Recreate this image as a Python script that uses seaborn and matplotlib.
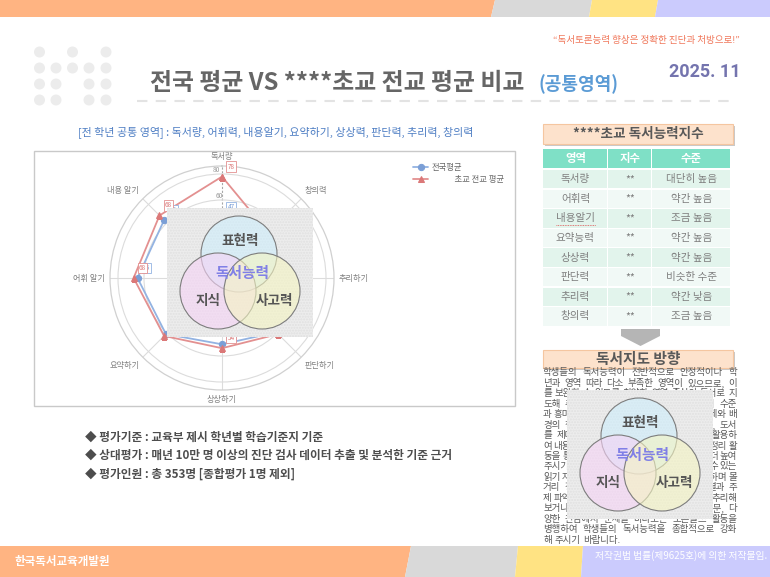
import numpy as np
import matplotlib
matplotlib.use("Agg")
import matplotlib.pyplot as plt
from matplotlib.patches import Rectangle, Polygon, Circle
from matplotlib.colors import to_rgba
import seaborn as sns

# ─────────────────────────────
# Data
# ─────────────────────────────
RADAR_AXES = ["독서량", "창의력", "추리하기", "판단하기", "상상하기", "요약하기", "어휘 알기", "내용 알기"]
NATIONAL_AVG = [47, 46, 57, 59, 51, 61, 65, 63]
SCHOOL_AVG = [78, 50, 55, 61, 54, 63, 68, 68]
RADAR_TICKS = [20, 40, 60, 80]

TABLE_HEADER = ["영역", "지수", "수준"]
TABLE_AREAS = ["독서량", "어휘력", "내용알기", "요약능력", "상상력", "판단력", "추리력", "창의력"]
TABLE_INDEX = ["**"] * 8
TABLE_LEVELS = ["대단히 높음", "약간 높음", "조금 높음", "약간 높음", "약간 높음", "비슷한 수준", "약간 낮음", "조금 높음"]

BULLETS = [
    "◆ 평가기준 : 교육부 제시 학년별 학습기준지 기준",
    "◆ 상대평가 : 매년 10만 명 이상의 진단 검사 데이터 추출 및 분석한 기준 근거",
    "◆ 평가인원 : 총 353명 [종합평가 1명 제외]",
]

GUIDE_LINES = [
    "학생들의 독서능력이 전반적으로 안정적이나 학",
    "년과 영역 따라 다소 부족한 영역이 있으므로, 이",
    "를 보완할 수 있도록 취약한 영역 중심의 독서로 지",
    "도해 주시기 바랍니다. 또한 학생들의 독서 수준",
    "과 흥미를 고려하여 다양한 분야와 폭넓은 주제와 배",
    "경의 책을 골고루 읽을 수 있도록 지도하고, 도서",
    "를 제대로 이해하기 위한 다양한 전략을 활용하",
    "여 내용을 스스로 요약하고 핵심을 파악하는 정리 활",
    "동을 통해 학생들의 이해력과 사고력을 한층 더 높여",
    "주시기 바랍니다. 또한 학생들이 흥미를 느낄 수 있는",
    "읽기 자료를 제공하고 책의 내용에 대해 생각하며 몰",
    "거리 정리와 인물의 성격, 사건의 원인과 결과 주",
    "제 파악을 하고, 이야기의 뒷부분을 상상하여 추리해",
    "보거나 등장인물에게 궁금한 점을 묻는 질문, 다",
    "양한 관점에서 문제를 바라보는 토론글쓰 활동을",
    "병행하여 학생들의 독서능력을 종합적으로 강화",
    "해 주시기 바랍니다.",
]

W, H = 770, 577
BAND_COLORS = ["#ffb482", "#d9d9d9", "#ffe383", "#cbcbfd"]
BLUE_LINE, BLUE_MARK = "#93b3e2", "#7b9fd6"
RED_LINE, RED_MARK = "#e39090", "#db7878"

sns.set_theme(style="white")
plt.rcParams["font.family"] = ["Noto Sans CJK KR", "DejaVu Sans"]
plt.rcParams["axes.unicode_minus"] = False

fig = plt.figure(figsize=(7.7, 5.77), dpi=100)
bg = fig.add_axes([0, 0, 1, 1])
bg.set_xlim(0, W)
bg.set_ylim(H, 0)
bg.axis("off")
renderer = fig.canvas.get_renderer()


def band(ax, xs_top, xs_bot, y0, y1):
    for i, c in enumerate(BAND_COLORS):
        pts = [(xs_top[i], y0), (xs_top[i + 1], y0), (xs_bot[i + 1], y1), (xs_bot[i], y1)]
        ax.add_patch(Polygon(pts, closed=True, fc=c, ec="none"))


def header_box(ax, x, y, w, h, text, size):
    ax.add_patch(Rectangle((x + 2, y + 2), w, h, fc="#c9c9c9", ec="none"))
    ax.add_patch(Rectangle((x, y), w, h, fc="#fde2cc", ec="#f5c6a0", lw=0.8))
    ax.text(x + w / 2, y + h / 2, text, ha="center", va="center",
            fontsize=size, fontweight="bold", color="#595959")


def draw_venn(ax, x0, y0):
    ax.add_patch(Rectangle((x0, y0), 146, 129, fc="#ededed", ec="none", zorder=5))
    ax.add_patch(Rectangle((x0, y0), 146, 129, fc="none", ec="#e0e0e0", lw=0,
                           hatch="......", zorder=5))
    circles = [((72, 46), "#cdeefc"), ((51, 83), "#f6d3f6"), ((95, 83), "#f5f5c2")]
    for (dx, dy), c in circles:
        ax.add_patch(Circle((x0 + dx, y0 + dy), 38, fc=to_rgba(c, 0.6),
                            ec="#7d7d7d", lw=0.8, zorder=6))
    kw = dict(ha="center", va="center", fontweight="bold", zorder=7)
    ax.text(x0 + 73, y0 + 33, "표현력", fontsize=9.8, color="#555555", **kw)
    ax.text(x0 + 75, y0 + 65, "독서능력", fontsize=10.6, color="#8080e6", **kw)
    ax.text(x0 + 41, y0 + 93, "지식", fontsize=9.8, color="#555555", **kw)
    ax.text(x0 + 107, y0 + 93, "사고력", fontsize=9.8, color="#555555", **kw)


def justify_line(ax, line, x0, x1, y, last, **kw):
    words = line.split(" ")
    items = [ax.text(0, y, w, ha="left", va="center", **kw) for w in words]
    widths = [t.get_window_extent(renderer).width for t in items]
    if last or len(items) == 1:
        gap = kw["fontsize"] * 100 / 72 * 0.3
    else:
        gap = max((x1 - x0 - sum(widths)) / (len(items) - 1), 1.0)
    x = x0
    for t, w in zip(items, widths):
        t.set_x(x)
        x += w + gap


# ─────────────────────────────
# Page decoration
# ─────────────────────────────
band(bg, [0, 495, 592, 658, W], [0, 491, 589, 655, W], 0, 17)
band(bg, [0, 411, 518, 583, W], [0, 405, 515, 581, W], 546, H)

dot_x = [39.5, 56, 72.5, 89, 106]
dot_rows = [(52, [0, 2, 4]), (68, [0, 1, 2, 3, 4]), (84, [0, 1, 3, 4]), (100, [0, 1, 3, 4])]
for y, cols in dot_rows:
    for c in cols:
        bg.add_patch(Circle((dot_x[c], y), 5.5, fc="#ececec", ec="none"))

bg.text(740, 40, "“독서토론능력 향상은 정확한 진단과 처방으로!”", ha="right", va="center",
        fontsize=6.9, color="#f0775a")
bg.text(150, 83, "전국 평균 VS ****초교 전교 평균 비교", ha="left", va="center",
        fontsize=17.2, fontweight="bold", color="#666666")
bg.text(538, 84, "(공통영역)", ha="left", va="center", fontsize=13,
        fontweight="bold", color="#5b9bd5")
bg.text(741, 72, "2025. 11", ha="right", va="center", fontsize=13,
        fontweight="bold", color="#7474ae", family=["Roboto", "DejaVu Sans"])
bg.plot([137, 735], [101, 101], color="#e3e3e3", lw=1.5, dashes=(5, 4))

bg.text(78, 133, "[전 학년 공통 영역] : 독서량, 어휘력, 내용알기, 요약하기, 상상력, 판단력, 추리력, 창의력",
        ha="left", va="center", fontsize=7.9, color="#4f7fc4")

bg.add_patch(Rectangle((34, 151), 481, 255, fc="white", ec="#c9c9c9", lw=1))

for i, txt in enumerate(BULLETS):
    bg.text(85, 437 + i * 18.5, txt, ha="left", va="center", fontsize=8.4,
            fontweight="bold", color="#4d4d4d")

bg.text(15, 561, "한국독서교육개발원", ha="left", va="center", fontsize=8.3,
        fontweight="bold", color="white")
bg.text(767, 556, "저작권법 법률(제9625호)에 의한 저작물임.", ha="right", va="center",
        fontsize=7.0, color="white")

# ─────────────────────────────
# Right panel: index table
# ─────────────────────────────
header_box(bg, 543, 124, 190, 20, "****초교 독서능력지수", 9.8)
col_x = [543, 608, 652, 731]
for j, name in enumerate(TABLE_HEADER):
    bg.add_patch(Rectangle((col_x[j], 149), col_x[j + 1] - col_x[j] - 1.2, 19,
                           fc="#7fe0c6", ec="none"))
    bg.text((col_x[j] + col_x[j + 1]) / 2, 158.5, name, ha="center", va="center",
            fontsize=8.2, fontweight="bold", color="white")
for i, row in enumerate(zip(TABLE_AREAS, TABLE_INDEX, TABLE_LEVELS)):
    top = 170 + i * 19.6
    fc = "#e2f4ec" if i % 2 == 0 else "#f1f9f6"
    for j, val in enumerate(row):
        bg.add_patch(Rectangle((col_x[j], top), col_x[j + 1] - col_x[j] - 1.2, 18.3,
                               fc=fc, ec="none"))
        bg.text((col_x[j] + col_x[j + 1]) / 2, top + 9.2, val, ha="center", va="center",
                fontsize=7.6, color="#7f7f7f")
bg.plot([556, 596], [225, 225], color="#e05050", lw=0.6, ls=(0, (1, 1)))

bg.add_patch(Polygon([(621, 329), (660, 329), (660, 336), (640.5, 346), (621, 336)],
                     closed=True, fc="#b5b5b5", ec="none"))

# ─────────────────────────────
# Right panel: guidance text
# ─────────────────────────────
header_box(bg, 543, 350, 190, 18, "독서지도 방향", 10.6)
for i, line in enumerate(GUIDE_LINES):
    justify_line(bg, line, 543, 737, 373 + i * 10.44, i == len(GUIDE_LINES) - 1,
                 fontsize=6.8, color="#595959")

# ─────────────────────────────
# Radar chart
# ─────────────────────────────
cx, cy, R = 222, 278, 112
ax = fig.add_axes([(cx - R) / W, 1 - (cy + R) / H, 2 * R / W, 2 * R / H], projection="polar")
ax.set_theta_zero_location("N")
ax.set_theta_direction(-1)
ax.patch.set_alpha(0)

theta = np.linspace(0, 2 * np.pi, len(RADAR_AXES), endpoint=False)
th_closed = np.append(theta, theta[0])

sns.lineplot(x=th_closed, y=np.append(NATIONAL_AVG, NATIONAL_AVG[0]), ax=ax, sort=False,
             estimator=None, color=BLUE_LINE, lw=1.3, marker="o", markersize=4.5,
             markerfacecolor=BLUE_MARK, markeredgecolor=BLUE_MARK, label="전국평균")
sns.lineplot(x=th_closed, y=np.append(SCHOOL_AVG, SCHOOL_AVG[0]), ax=ax, sort=False,
             estimator=None, color=RED_LINE, lw=1.3, marker="^", markersize=5,
             markerfacecolor=RED_MARK, markeredgecolor=RED_MARK, label="초교 전교 평균")

ax.set_ylim(0, R / 1.3)
ax.set_xticks(theta)
ax.set_xticklabels([])
ax.set_yticks(RADAR_TICKS)
ax.set_yticklabels([str(t) for t in RADAR_TICKS], fontsize=4.8, color="#999999")
ax.set_rlabel_position(-5)
ax.set_xlabel("")
ax.set_ylabel("")
ax.grid(color="#dcdcdc", lw=0.8)
ax.spines["polar"].set_color("#d0d0d0")
ax.spines["polar"].set_linewidth(0.9)
gl = ax.xaxis.get_gridlines()[0]
gl.set_linestyle((0, (2, 1.5)))
gl.set_color("#a8a8a8")

for th, name in zip(theta, RADAR_AXES):
    s, c = np.sin(th), np.cos(th)
    ha = "left" if s > 0.1 else ("right" if s < -0.1 else "center")
    va = "bottom" if c > 0.1 else ("top" if c < -0.1 else "center")
    ax.text(th, 90, name, ha=ha, va=va, fontsize=5.9, color="#808080", clip_on=False)

for vals, line_c, mark_c in [(NATIONAL_AVG, BLUE_LINE, BLUE_MARK), (SCHOOL_AVG, RED_LINE, RED_MARK)]:
    for th, v in zip(theta, vals):
        ax.annotate(str(v), (th, v), xytext=(9, 10), textcoords="offset pixels",
                    ha="center", va="center", fontsize=4.6, color=mark_c, zorder=5,
                    annotation_clip=False,
                    bbox=dict(boxstyle="square,pad=0.2", fc="white", ec=line_c, lw=0.6))

handles, _ = ax.get_legend_handles_labels()
ax.legend(handles, ["전국평균", "            초교 전교 평균"], loc="upper left",
          bbox_to_anchor=(406 / W, 1 - 155 / H), bbox_transform=fig.transFigure,
          frameon=False, fontsize=6, handlelength=1.8, handletextpad=0.4,
          labelspacing=0.45, labelcolor="#666666")

# ─────────────────────────────
# Overlay images (venn diagrams)
# ─────────────────────────────
ov = fig.add_axes([0, 0, 1, 1])
ov.set_xlim(0, W)
ov.set_ylim(H, 0)
ov.axis("off")
ov.patch.set_alpha(0)
draw_venn(ov, 167, 208)
draw_venn(ov, 567, 390)

fig.savefig("out.png", dpi=100)
